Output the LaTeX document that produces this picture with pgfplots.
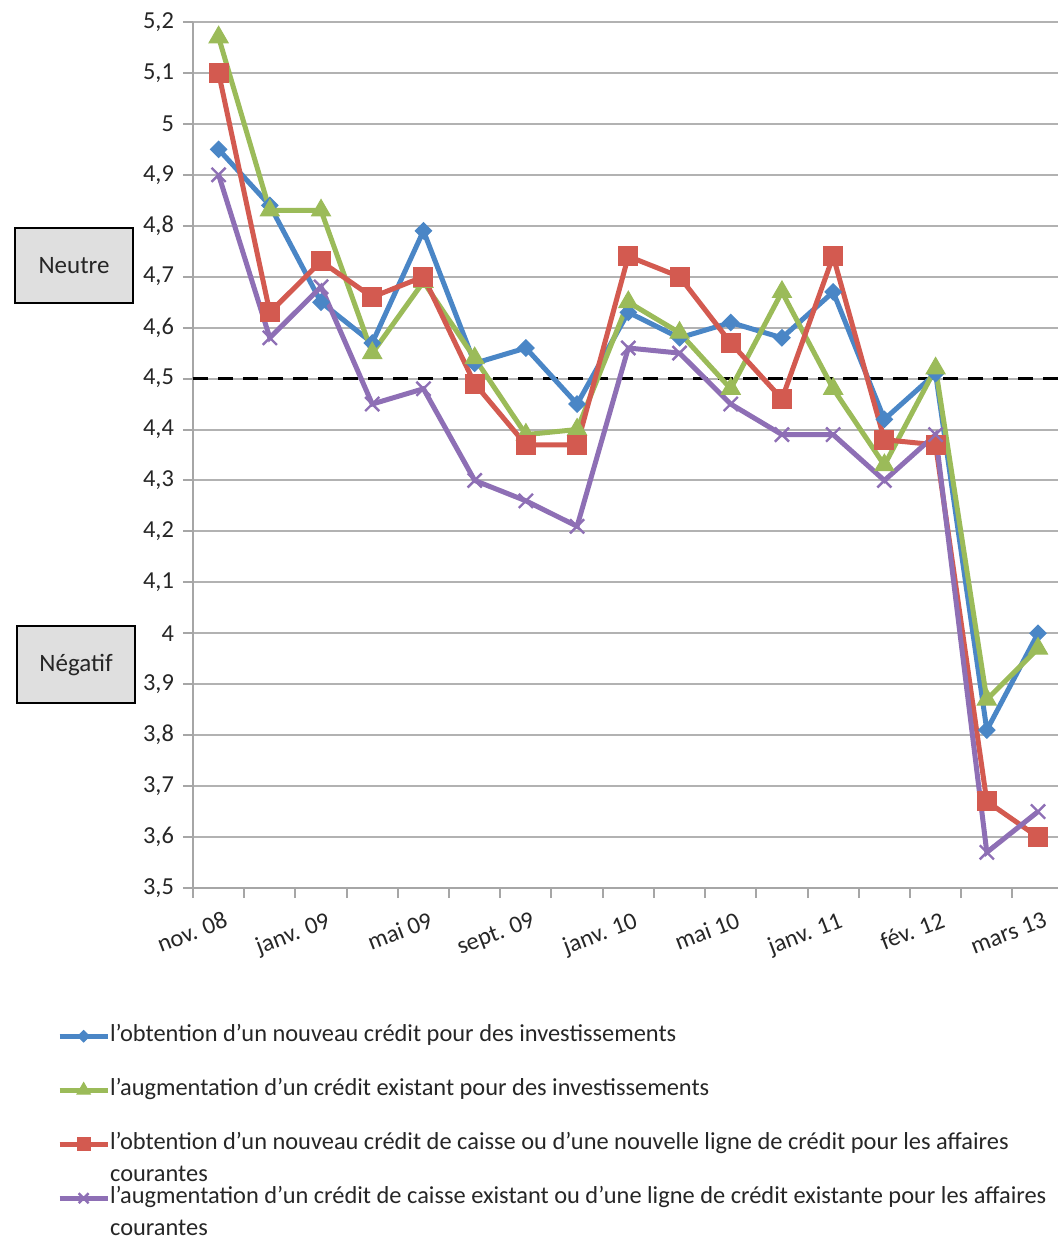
\documentclass[border=0pt]{standalone}
\usepackage{fontspec}
\setmainfont{Carlito}
\usepackage{pgfplots}
\pgfplotsset{compat=1.18}

\definecolor{serblue}{HTML}{4A86C6}
\definecolor{sergreen}{HTML}{9BBB59}
\definecolor{serred}{HTML}{D35A50}
\definecolor{serpurple}{HTML}{8E6FB5}
\definecolor{boxgray}{HTML}{DFDFDF}

\newcommand{\lblfont}{\fontsize{12.2}{14}\selectfont}

\begin{document}
\begin{tikzpicture}[x=1pt,y=1pt]
\path[use as bounding box] (0,0) rectangle (529,621);
\begin{axis}[
  at={(96.5pt,177pt)}, anchor=south west,
  scale only axis, width=432.5pt, height=433pt,
  xmin=0.5, xmax=17.39, ymin=3.5, ymax=5.2,
  clip=false,
  axis lines*=left,
  axis line style={draw=gray!70, line width=1pt},
  tick align=outside,
  major tick length=5pt,
  tick style={draw=gray!70, line width=1pt},
  xtick={0.5,1.5,...,16.5},
  xticklabels={},
  extra x ticks={1,3,5,7,9,11,13,15,17},
  extra x tick labels={nov. 08, janv. 09, mai 09, sept. 09, janv. 10, mai 10, janv. 11, fév. 12, mars 13},
  extra x tick style={major tick length=0pt, grid=none,
    xticklabel style={rotate=21, anchor=north east, yshift=-8pt, xshift=1.5pt}},
  ytick={3.5,3.6,3.7,3.8,3.9,4.0,4.1,4.2,4.3,4.4,4.5,4.6,4.7,4.8,4.9,5.0,5.1,5.2},
  yticklabels={{3,5},{3,6},{3,7},{3,8},{3,9},{4},{4,1},{4,2},{4,3},{4,4},{4,5},{4,6},{4,7},{4,8},{4,9},{5},{5,1},{5,2}},
  yticklabel style={xshift=-1pt},
  ymajorgrids,
  major grid style={draw=gray!60, line width=1pt},
  tick label style={font=\lblfont, text=black!85},
  legend style={at={(axis description cs:-0.1575,-0.158)}, anchor=north west,
    draw=none, fill=none, inner sep=0pt, row sep=16pt, column sep=0pt,
    cells={anchor=west},
    nodes={inner sep=0pt, text height=8pt, text depth=3pt, font=\lblfont, text=black!85}},
  legend cell align=left,
  legend image code/.code={\draw[mark repeat=2,mark phase=2,#1,every mark/.append style={scale=0.7}] plot coordinates {(0pt,0pt) (12pt,0pt) (24pt,0pt)};},
  every axis plot/.append style={line width=2.5pt},
]
% reference level (neutral = 4,5)
\addplot[black, line width=1.6pt, dash pattern=on 7.5pt off 5pt, forget plot]
  coordinates {(0.5,4.5) (17.39,4.5)};

\addplot[serblue, mark=square*, mark size=2.9pt, mark options={rotate=45, line width=0.5pt}]
  coordinates {(1,4.95) (2,4.84) (3,4.65) (4,4.57) (5,4.79) (6,4.53) (7,4.56) (8,4.45) (9,4.63)
    (10,4.58) (11,4.61) (12,4.58) (13,4.67) (14,4.42) (15,4.51) (16,3.81) (17,4.00)};
\addlegendentry{l’obtention d’un nouveau crédit pour des investissements}

\addplot[sergreen, mark=triangle*, mark size=5.5pt, mark options={line width=0.5pt}]
  coordinates {(1,5.17) (2,4.83) (3,4.83) (4,4.55) (5,4.69) (6,4.54) (7,4.39) (8,4.40) (9,4.65)
    (10,4.59) (11,4.48) (12,4.67) (13,4.48) (14,4.33) (15,4.52) (16,3.87) (17,3.97)};
\addlegendentry{l’augmentation d’un crédit existant pour des investissements}

\addplot[serred, mark=square*, mark size=4.75pt, mark options={line width=0.5pt}]
  coordinates {(1,5.10) (2,4.63) (3,4.73) (4,4.66) (5,4.70) (6,4.49) (7,4.37) (8,4.37) (9,4.74)
    (10,4.70) (11,4.57) (12,4.46) (13,4.74) (14,4.38) (15,4.37) (16,3.67) (17,3.60)};
\addlegendentry{\makebox[0pt][l]{\raisebox{-16pt}[0pt][0pt]{courantes}}l’obtention d’un nouveau crédit de caisse ou d’une nouvelle ligne de crédit pour les affaires}

\addplot[serpurple, mark=x, mark size=5pt, mark options={line width=1.2pt}]
  coordinates {(1,4.90) (2,4.58) (3,4.68) (4,4.45) (5,4.48) (6,4.30) (7,4.26) (8,4.21) (9,4.56)
    (10,4.55) (11,4.45) (12,4.39) (13,4.39) (14,4.30) (15,4.39) (16,3.57) (17,3.65)};
\addlegendentry{\makebox[0pt][l]{\raisebox{-16pt}[0pt][0pt]{courantes}}l’augmentation d’un crédit de caisse existant ou d’une ligne de crédit existante pour les affaires}
\end{axis}

% zone labels beside the value axis
\node[draw=black, line width=1pt, fill=boxgray, minimum width=59pt, minimum height=37.5pt,
      inner sep=0pt, font=\fontsize{12.5}{14}\selectfont, text=black!85] at (37,488) {Neutre};
\node[draw=black, line width=1pt, fill=boxgray, minimum width=59pt, minimum height=38.5pt,
      inner sep=0pt, font=\fontsize{12.5}{14}\selectfont, text=black!85] at (38,288.5) {Négatif};
\end{tikzpicture}
\end{document}
